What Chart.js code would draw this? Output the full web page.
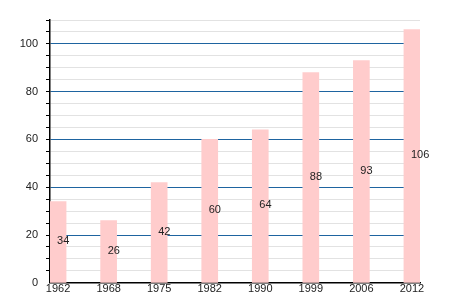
<!DOCTYPE html>
<html><head><meta charset="utf-8">
<script src="https://cdn.jsdelivr.net/npm/chart.js@4/dist/chart.umd.min.js"></script>
<style>html,body{margin:0;padding:0;background:#fff}#wrap{width:450px;height:300px}</style>
</head><body><div id="wrap"><canvas id="c" width="450" height="300"></canvas></div>
<script>
const categories = ['1962','1968','1975','1982','1990','1999','2006','2012'];
const values = [34,26,42,60,64,88,93,106];
const yTicks = [0,20,40,60,80,100];

const labelPlugin = {
  id: 'valueLabels',
  afterDatasetsDraw(chart) {
    const ctx = chart.ctx;
    const meta = chart.getDatasetMeta(0);
    const ys = chart.scales.y;
    ctx.save();
    ctx.font = '11px "Liberation Sans", Arial, sans-serif';
    ctx.fillStyle = '#222';
    ctx.textAlign = 'left';
    ctx.textBaseline = 'alphabetic';
    meta.data.forEach((bar, i) => {
      const v = values[i];
      const y = ys.getPixelForValue(v / 2);
      ctx.fillText(String(v), bar.x - 1, y + 2);
    });
    ctx.restore();
  }
};

new Chart(document.getElementById('c'), {
  type: 'bar',
  data: {
    datasets: [{
      data: values.map((v, i) => ({x: i, y: v})),
      backgroundColor: 'rgb(255,204,204)',
      borderWidth: 0,
      barThickness: 16
    }]
  },
  options: {
    responsive: false,
    animation: false,
    layout: {padding: {left: 0, right: 30, top: 20, bottom: 4}},
    plugins: {legend: {display: false}, tooltip: {enabled: false}},
    scales: {
      x: {
        type: 'linear',
        offset: false,
        min: -0.16, max: 7.16,
        afterBuildTicks(axis) { axis.ticks = categories.map((c, i) => ({value: i})); },
        ticks: {
          callback: (v) => categories[v] ?? '',
          autoSkip: false, maxRotation: 0,
          color: '#222', padding: 0,
          font: {size: 11, family: '"Liberation Sans", Arial, sans-serif'}
        },
        grid: {display: false, drawTicks: false},
        border: {color: '#000', width: 1.5}
      },
      y: {
        min: 0, max: 110,
        afterBuildTicks(axis) {
          const t = [];
          for (let v = 0; v <= 110; v += 5) t.push({value: v});
          axis.ticks = t;
        },
        afterFit(axis) { axis.width = 50; },
        ticks: {
          callback: (v) => yTicks.includes(v) ? String(v) : '',
          autoSkip: false,
          color: '#222', padding: 8,
          font: {size: 11, family: '"Liberation Sans", Arial, sans-serif'}
        },
        grid: {
          color: (c) => (c.tick && c.tick.value % 20 === 0) ? '#1e64a0' : '#e2e2e2',
          lineWidth: (c) => (c.tick && c.tick.value === 0) ? 0 : 1,
          tickColor: '#000',
          tickLength: 4,
          drawTicks: true
        },
        border: {color: '#000', width: 1.5}
      }
    }
  },
  plugins: [labelPlugin]
});
</script>
</body></html>
